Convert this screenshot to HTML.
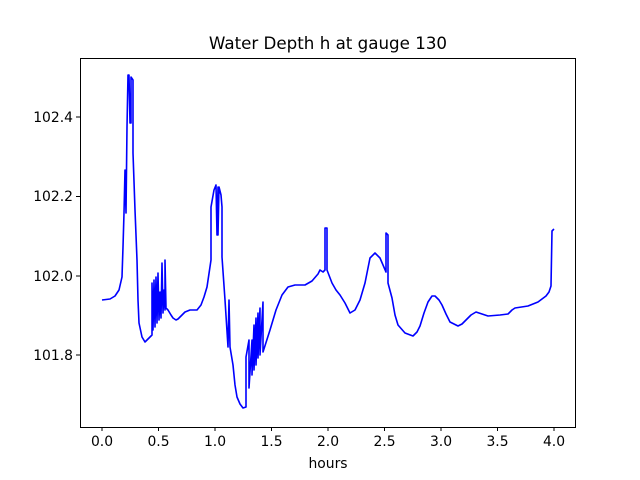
<!DOCTYPE html>
<html><head><style>body{margin:0;background:#fff}svg{display:block}text{font-family:"DejaVu Sans","Liberation Sans",sans-serif;font-size:13.9px;fill:#000}</style></head><body>
<svg width="640" height="480" viewBox="0 0 640 480">
<rect width="640" height="480" fill="#fff"/>
<text x="328" y="49" text-anchor="middle" style="font-size:16.7px">Water Depth h at gauge 130</text>
<path fill="none" stroke="#0000ff" stroke-width="1.6" stroke-linejoin="round" d="M102,300 L110,299 L115,296 L119,290 L122,277 L123,247 L124,213 L125,170 L126,213 L127,127 L128,75 L129,75 L130,123 L131,123 L131,77 L133,80 L133,153 L135,210 L137,260 L138,300 L139,323 L142,337 L145,342 L152,335 L152,283 L153,330 L154,280 L155,327 L156,277 L157,323 L158,273 L159,320 L160,292 L161,318 L162,263 L163,313 L164,290 L165,310 L165,260 L166,308 L168,310 L171,315 L173,318 L176,320 L178,319 L182,315 L185,312 L190,310 L197,310 L201,305 L204,297 L207,287 L211,260 L211,207 L214,190 L216,185 L217,235 L218,187 L218,235 L219,187 L221,195 L222,207 L222,257 L225,300 L228,347 L229,300 L230,347 L233,365 L235,385 L237,397 L240,404 L243,408 L246,407 L246,357 L249,340 L249,388 L252,340 L252,375 L254,325 L254,370 L256,318 L256,365 L258,313 L258,358 L260,308 L260,355 L263,302 L263,352 L270,330 L276,310 L282,295 L288,287 L295,285 L305,285 L312,281 L318,274 L320,270 L323,272 L325,270 L325,228 L327,228 L327,270 L332,283 L336,290 L340,295 L345,303 L350,313 L355,310 L360,300 L365,283 L370,258 L375,253 L380,258 L386,272 L386,233 L388,235 L388,283 L392,298 L395,315 L398,325 L405,333 L413,336 L417,332 L420,326 L424,313 L428,302 L432,296 L435,296 L439,300 L442,305 L446,314 L450,322 L458,326 L462,324 L466,320 L471,315 L476,312 L482,314 L488,316 L500,315 L508,314 L512,310 L515,308 L528,306 L533,304 L538,302 L546,296 L549,292 L551,286 L552,231 L554,229"/>
<rect x="80.5" y="58.5" width="495" height="369" fill="none" stroke="#000" stroke-width="1"/>
<g stroke="#000">
<line x1="102" y1="427" x2="102" y2="431"/><line x1="158.5" y1="427" x2="158.5" y2="431"/><line x1="215" y1="427" x2="215" y2="431"/><line x1="271.5" y1="427" x2="271.5" y2="431"/><line x1="328" y1="427" x2="328" y2="431"/><line x1="384.5" y1="427" x2="384.5" y2="431"/><line x1="441" y1="427" x2="441" y2="431"/><line x1="497.5" y1="427" x2="497.5" y2="431"/><line x1="554" y1="427" x2="554" y2="431"/>
<line x1="76" y1="117" x2="80" y2="117"/><line x1="76" y1="196.5" x2="80" y2="196.5"/><line x1="76" y1="276" x2="80" y2="276"/><line x1="76" y1="355" x2="80" y2="355"/>
</g>
<g text-anchor="middle">
<text x="102" y="446">0.0</text><text x="158.5" y="446">0.5</text><text x="215" y="446">1.0</text><text x="271.5" y="446">1.5</text><text x="328" y="446">2.0</text><text x="384.5" y="446">2.5</text><text x="441" y="446">3.0</text><text x="497.5" y="446">3.5</text><text x="554" y="446">4.0</text>
<text x="328" y="468">hours</text>
</g>
<g text-anchor="end">
<text x="73" y="122">102.4</text><text x="73" y="201">102.2</text><text x="73" y="281">102.0</text><text x="73" y="360">101.8</text>
</g>
</svg>
</body></html>
